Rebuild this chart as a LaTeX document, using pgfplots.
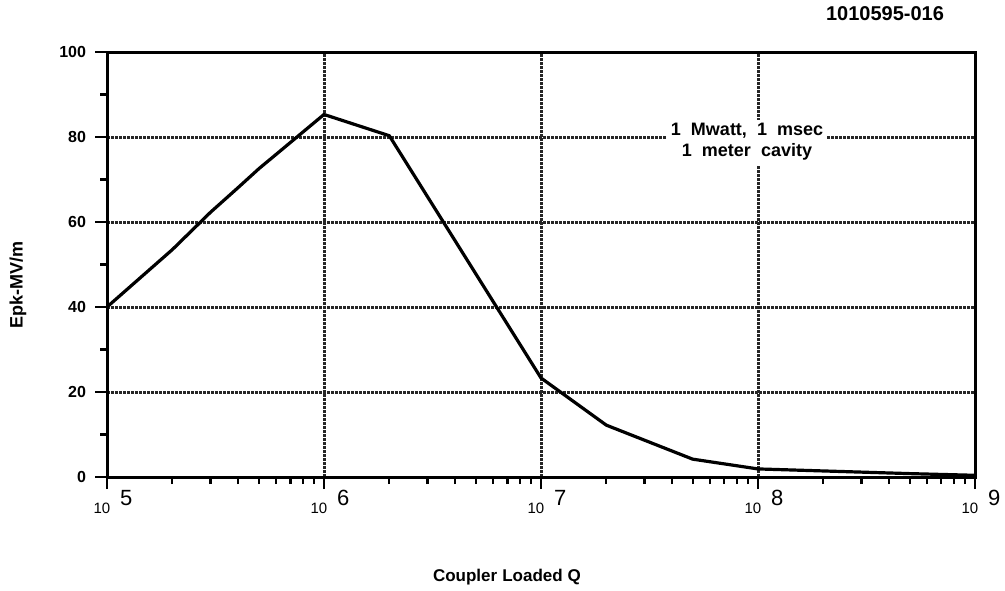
\documentclass[border=0pt]{standalone}
\usepackage{pgfplots}
\pgfplotsset{compat=1.18}
\usepackage{fontspec}
\setmainfont{Liberation Sans}
\newcommand{\lab}[1]{{\fontsize{7.5}{8}\selectfont 10}\hspace{5pt}\raisebox{4pt}{\fontsize{11}{11}\selectfont #1}}
\begin{document}
\begin{tikzpicture}
\useasboundingbox (-53.5pt,-56.5pt) rectangle (449pt,238.5pt);
\begin{axis}[
  at={(0,0)}, anchor=south west,
  scale only axis, width=434pt, height=212.5pt,
  xmode=log, xmin=1e5, xmax=1e9, ymin=0, ymax=100,
  xtick={1e5,1e6,1e7,1e8,1e9},
  xticklabels={\lab{5},\lab{6},\lab{7},\lab{8},\lab{9}},
  ytick={0,20,40,60,80,100},
  minor ytick={10,30,50,70,90},
  xtick pos=bottom, ytick pos=left,
  tick align=outside,
  major tick length=6pt, minor tick length=3.5pt,
  every tick/.style={black, line width=1.1pt},
  every minor tick/.style={black, line width=1.1pt},
  axis line style={line width=1.5pt},
  grid=major,
  major grid style={black!85, line width=1.5pt, dash pattern=on 1.4pt off 0.6pt},
  /pgf/number format/assume math mode=true,
  yticklabel style={font=\fontsize{8}{8}\selectfont\bfseries, xshift=-1pt},
  xticklabel style={anchor=north, xshift=3pt, yshift=3pt},
]
\addplot[black, line width=1.6pt, line join=round] coordinates {
 (1e5,40) (2e5,53.5) (3e5,62.3) (4e5,68) (5e5,72.5) (1e6,85.3) (2e6,80.3)
 (1e7,23.3) (2e7,12.2) (5e7,4.2) (1e8,1.9) (5e8,0.8) (1e9,0.4)
};
\node[fill=white, inner sep=2pt, align=center, font=\fontsize{9}{10.5}\selectfont\bfseries]
  at (axis cs:8.9e7,78.8) {1\hspace{5pt}Mwatt,\hspace{5pt}1\hspace{5pt}msec\\1\hspace{5pt}meter\hspace{5pt}cavity};
\end{axis}
\node[rotate=90, font=\fontsize{9}{9}\selectfont\bfseries] at (-44.5pt,96pt) {Epk-MV/m};
\node[font=\fontsize{8.5}{9}\selectfont\bfseries] at (200pt,-50pt) {Coupler\hspace{2.5pt}Loaded\hspace{2.5pt}Q};
\node[font=\fontsize{10}{10}\selectfont\bfseries] at (389pt,231.5pt) {1010595-016};
\end{tikzpicture}
\end{document}
